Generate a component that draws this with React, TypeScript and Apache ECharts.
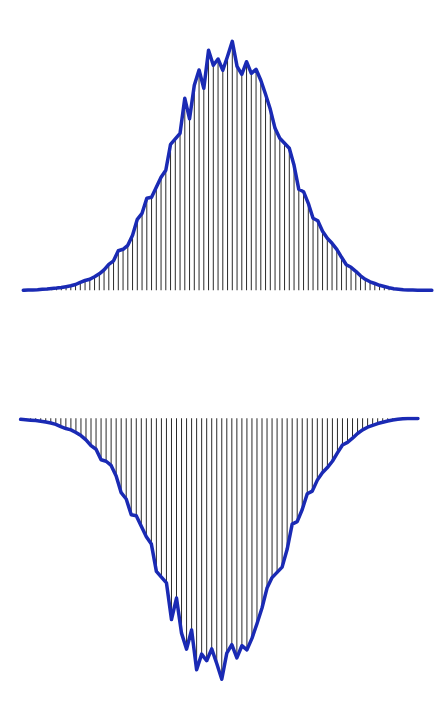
import React, { useEffect, useRef } from "react";
import * as echarts from "echarts";

// Distribution values (one per bin)
const values: number[] = [
  0, 0.2, 0.4, 0.6, 1, 1.3, 1.8, 2.2, 2.8, 3.6,
  4.5, 5.8, 8, 9.8, 11, 13.5, 16.5, 20.5, 26, 29.5,
  39.6, 41, 45, 55, 71, 77, 92, 93, 103, 113,
  120, 146, 151.5, 157, 192, 171.5, 205, 220.3, 202, 240,
  225, 231.3, 220, 234, 249, 224, 216, 228.6, 217, 221,
  210, 196, 181, 162, 152, 147, 142, 125, 101, 98.6,
  87, 72, 69.5, 59, 52, 47, 41, 33, 25.5, 23,
  19, 14.5, 11, 8.5, 6.8, 5, 3.8, 2.6, 1.6, 1.0,
  0.5, 0.3, 0.2, 0.1, 0.1, 0, 0,
];
const categories: string[] = values.map((_, i) => String(i + 1));

// The mirrored (lower) panel shows bins 5..84
const lowerFirst = 4;
const lowerLast = 83;
const lowerCategories = categories.slice(lowerFirst, lowerLast + 1);
const lowerValues = values.slice(lowerFirst, lowerLast + 1);

const LINE_COLOR = "#1a2ab4";
const BAR_COLOR = "#2a2a2a";

export default function App() {
  const ref = useRef<HTMLDivElement>(null);
  useEffect(() => {
    if (!ref.current) return;
    const chart = echarts.init(ref.current, null, { renderer: "svg" });
    const hiddenAxis = {
      axisLine: { show: false },
      axisTick: { show: false },
      axisLabel: { show: false },
      splitLine: { show: false },
    };
    chart.setOption({
      animation: false,
      backgroundColor: "#ffffff",
      grid: [
        { left: 23.3, width: 408.5, top: 40.3, height: 250 },
        { left: 20.6, width: 397.3, top: 418.3, height: 262 },
      ],
      xAxis: [
        { type: "category", gridIndex: 0, data: categories, boundaryGap: false, ...hiddenAxis },
        { type: "category", gridIndex: 1, data: lowerCategories, boundaryGap: false, ...hiddenAxis },
      ],
      yAxis: [
        { type: "value", gridIndex: 0, min: 0, max: 250, ...hiddenAxis },
        { type: "value", gridIndex: 1, min: 0, max: 250, inverse: true, ...hiddenAxis },
      ],
      series: [
        {
          type: "bar",
          xAxisIndex: 0,
          yAxisIndex: 0,
          data: values,
          barWidth: 1,
          itemStyle: { color: BAR_COLOR },
          silent: true,
        },
        {
          type: "line",
          xAxisIndex: 0,
          yAxisIndex: 0,
          data: values,
          showSymbol: false,
          symbol: "none",
          lineStyle: { color: LINE_COLOR, width: 3.5, join: "round", cap: "round" },
          z: 5,
        },
        {
          type: "bar",
          xAxisIndex: 1,
          yAxisIndex: 1,
          data: lowerValues,
          barWidth: 1,
          itemStyle: { color: BAR_COLOR },
          silent: true,
        },
        {
          type: "line",
          xAxisIndex: 1,
          yAxisIndex: 1,
          data: lowerValues,
          showSymbol: false,
          symbol: "none",
          lineStyle: { color: LINE_COLOR, width: 3.5, join: "round", cap: "round" },
          z: 5,
        },
      ],
    });
    return () => chart.dispose();
  }, []);
  return (
    <div
      ref={ref}
      style={{ position: "fixed", left: 0, top: 0, width: 448, height: 703 }}
    />
  );
}
